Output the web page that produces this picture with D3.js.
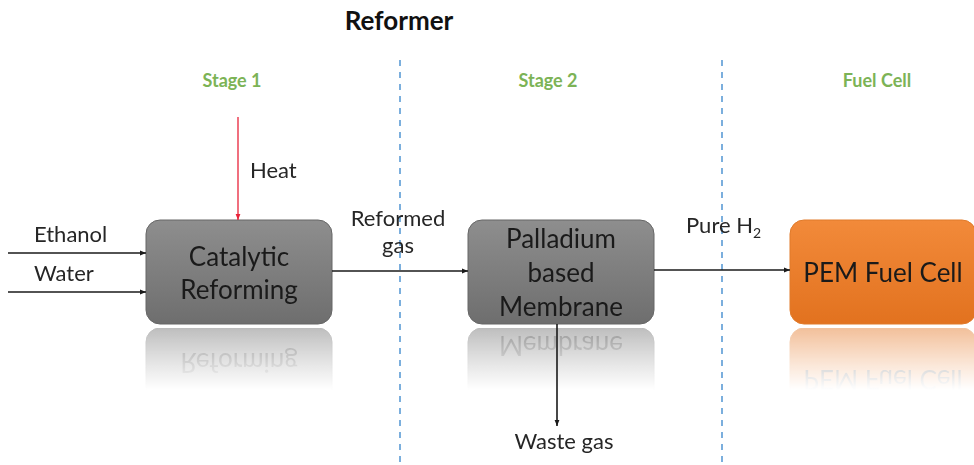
<!DOCTYPE html>
<html lang="en">
<head>
<meta charset="UTF-8">
<title>Reformer</title>
<style>
  body { margin: 0; background: #fff; }
  text { font-family: Lato, "Open Sans", sans-serif; }
</style>
</head>
<body>
<script src="https://d3js.org/d3.v7.min.js"></script>
<script>
const width = 974;
const height = 465;

// stages / columns
const stages = ["Stage 1", "Stage 2", "Fuel Cell"];
const boxLabels = [["Catalytic", "Reforming"], ["Palladium", "based", "Membrane"], ["PEM Fuel Cell"]];
const boxFills = ["gray", "gray", "orange"];
const inputs = ["Ethanol", "Water"];
const streams = [["Reformed", "gas"], ["Pure H", "2"]];
const heatLabel = "Heat";
const wasteLabel = "Waste gas";
const title = "Reformer";

const x = d3.scaleBand().domain(stages).range([78, 1044]);
const boxW = 186, boxH = 104, boxTop = 220;
const txt = "#262626";

const svg = d3.select("body").append("svg")
  .attr("width", width)
  .attr("height", height);

const defs = svg.append("defs");

function marker(id, col) {
  defs.append("marker")
    .attr("id", id)
    .attr("viewBox", "0 0 10 10")
    .attr("refX", 10).attr("refY", 5)
    .attr("markerWidth", 6).attr("markerHeight", 6)
    .attr("markerUnits", "userSpaceOnUse")
    .attr("orient", "auto")
    .append("path").attr("d", "M0,1 L10,5 L0,9 z").attr("fill", col);
}
marker("arr", "#1a1a1a");
marker("arrRed", "#e8233a");

const grads = {
  gray: ["#8e8e8e", "#6e6e6e"],
  orange: ["#f28a3a", "#e2721f"]
};
Object.entries(grads).forEach(([k, c]) => {
  const g = defs.append("linearGradient").attr("id", "g-" + k)
    .attr("x1", 0).attr("y1", 0).attr("x2", 0).attr("y2", 1);
  g.append("stop").attr("offset", "0%").attr("stop-color", c[0]);
  g.append("stop").attr("offset", "100%").attr("stop-color", c[1]);
});

// fade for reflections
const fade = defs.append("linearGradient").attr("id", "fade")
  .attr("x1", 0).attr("y1", 0).attr("x2", 0).attr("y2", 1);
fade.append("stop").attr("offset", "0%").attr("stop-color", "#fff").attr("stop-opacity", 0.45);
fade.append("stop").attr("offset", "100%").attr("stop-color", "#fff").attr("stop-opacity", 0);
defs.append("mask").attr("id", "reflMask")
  .attr("maskUnits", "userSpaceOnUse")
  .attr("x", 0).attr("y", 0).attr("width", width).attr("height", height)
  .append("rect")
  .attr("x", 0).attr("y", boxTop + boxH + 4).attr("width", width).attr("height", 62)
  .attr("fill", "url(#fade)");

// title
svg.append("text")
  .attr("x", 399).attr("y", 30)
  .attr("text-anchor", "middle")
  .attr("font-size", 26).attr("font-weight", "bold")
  .attr("fill", "#111")
  .text(title);

// dividers
stages.slice(1).forEach(s => {
  svg.append("line")
    .attr("x1", x(s)).attr("x2", x(s))
    .attr("y1", 60).attr("y2", height)
    .attr("stroke", "#5b9bd5").attr("stroke-width", 1.6)
    .attr("stroke-dasharray", "6,6");
});

// stage labels
svg.selectAll(".stage").data(stages).join("text")
  .attr("x", (d, i) => x(d) + x.bandwidth() / 2 - [7, 13, 6][i])
  .attr("y", 87)
  .attr("text-anchor", "middle")
  .attr("font-size", 18).attr("font-weight", "bold")
  .attr("fill", "#7cb356")
  .text(d => d);

const boxX = d => x(d) + x.bandwidth() / 2 - boxW / 2;

// box drawing (reflection only keeps the last text line)
function drawBox(g, i, reflected) {
  const s = stages[i];
  const bx = boxX(s);
  g.append("rect")
    .attr("x", bx).attr("y", boxTop)
    .attr("width", boxW).attr("height", boxH)
    .attr("rx", 14)
    .attr("fill", `url(#g-${boxFills[i]})`)
    .attr("stroke", boxFills[i] === "gray" ? "#666" : "#e07a2a")
    .attr("stroke-width", 1);
  const lines = boxLabels[i];
  const lh = lines.length === 3 ? 34 : 33;
  const cy = boxTop + boxH / 2;
  const shown = lines.map((d, j) => ({ d, j })).filter(o => !reflected || o.j === lines.length - 1);
  g.selectAll(null).data(shown).join("text")
    .attr("x", bx + boxW / 2)
    .attr("y", o => cy + (o.j - (lines.length - 1) / 2) * lh + 10)
    .attr("text-anchor", "middle")
    .attr("font-size", 26)
    .attr("fill", "#1a1a1a")
    .text(o => o.d);
}

// reflections
const refl = svg.append("g").attr("mask", "url(#reflMask)");
stages.forEach((s, i) => {
  const g = refl.append("g")
    .attr("transform", `translate(0,${2 * (boxTop + boxH) + 4}) scale(1,-1)`);
  drawBox(g, i, true);
});

// boxes
stages.forEach((s, i) => drawBox(svg.append("g"), i, false));

// arrows
function arrow(x1, y1, x2, y2, red) {
  svg.append("line")
    .attr("x1", x1).attr("y1", y1).attr("x2", x2).attr("y2", y2)
    .attr("stroke", red ? "#e8233a" : "#1a1a1a")
    .attr("stroke-width", red ? 1.3 : 1.6)
    .attr("marker-end", red ? "url(#arrRed)" : "url(#arr)");
}

const b0 = boxX(stages[0]), b1 = boxX(stages[1]), b2 = boxX(stages[2]);
const inY = [253, 292];
const inLabY = [242, 281];
inputs.forEach((d, i) => {
  arrow(8, inY[i], b0, inY[i]);
  svg.append("text")
    .attr("x", 34).attr("y", inLabY[i])
    .attr("font-size", 22).attr("fill", txt)
    .text(d);
});

// heat
const hx = b0 + boxW / 2 - 1;
arrow(hx, 117, hx, boxTop, true);
svg.append("text").attr("x", 250).attr("y", 178)
  .attr("font-size", 22).attr("fill", txt).text(heatLabel);

// reformed gas
arrow(b0 + boxW, 271, b1, 271);
svg.selectAll(".rg").data(streams[0]).join("text")
  .attr("x", 398).attr("y", (d, i) => 226 + i * 27)
  .attr("text-anchor", "middle")
  .attr("font-size", 22).attr("fill", txt)
  .text(d => d);

// pure H2
arrow(b1 + boxW, 270, b2, 270);
const ph = svg.append("text").attr("x", 686).attr("y", 233)
  .attr("font-size", 22).attr("fill", txt);
ph.append("tspan").text(streams[1][0]);
ph.append("tspan").attr("font-size", 14).attr("dy", 5).text(streams[1][1]);

// waste gas
const wx = b1 + boxW / 2 - 4;
arrow(wx, boxTop + boxH, wx, 426);
svg.append("text").attr("x", wx + 7).attr("y", 449)
  .attr("text-anchor", "middle")
  .attr("font-size", 22).attr("fill", txt).text(wasteLabel);
</script>
</body>
</html>
